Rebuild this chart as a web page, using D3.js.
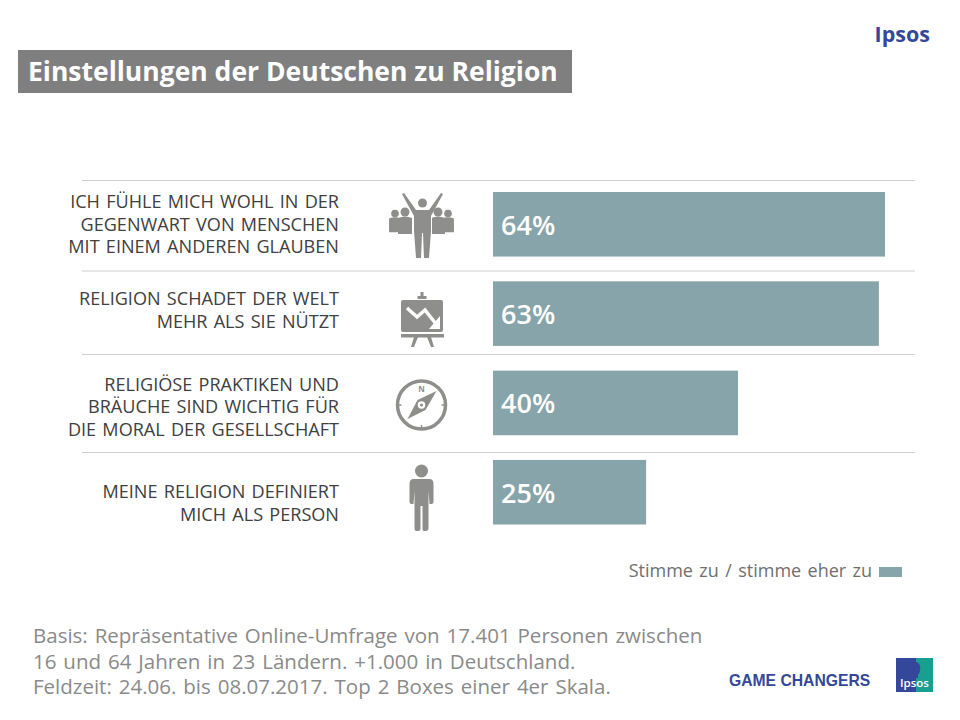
<!DOCTYPE html>
<html>
<head>
<meta charset="utf-8">
<script src="https://cdn.jsdelivr.net/npm/d3@7"></script>
<style>
  html, body { margin: 0; padding: 0; background: #fff; }
  text { font-family: "Open Sans", sans-serif; }
</style>
</head>
<body>
<div id="chart"></div>
<script>
const width = 960, height = 720;

// values
const categories = ["belief", "harm", "moral", "person"];
const values = [64, 63, 40, 25];
const labels = [
  ["ICH FÜHLE MICH WOHL IN DER", "GEGENWART VON MENSCHEN", "MIT EINEM ANDEREN GLAUBEN"],
  ["RELIGION SCHADET DER WELT", "MEHR ALS SIE NÜTZT"],
  ["RELIGIÖSE PRAKTIKEN UND", "BRÄUCHE SIND WICHTIG FÜR", "DIE MORAL DER GESELLSCHAFT"],
  ["MEINE RELIGION DEFINIERT", "MICH ALS PERSON"]
];
const legendLabel = "Stimme zu / stimme eher zu";
const titleText = "Einstellungen der Deutschen zu Religion";
const footnotes = [
  "Basis: Repräsentative Online-Umfrage von 17.401 Personen zwischen",
  "16 und 64 Jahren in 23 Ländern. +1.000 in Deutschland.",
  "Feldzeit: 24.06. bis 08.07.2017. Top 2 Boxes einer 4er Skala."
];

const barColor = "#86a4a9", iconColor = "#8e8e8c", textColor = "#404040", ipsosBlue = "#35479a";

const svg = d3.select("#chart").append("svg")
  .attr("width", width)
  .attr("height", height)
  .attr("viewBox", [0, 0, width, height])
  .style("display", "block");

// scales
const x = d3.scaleLinear().domain([0, 64]).range([493, 885]);
const y = d3.scaleBand().domain(categories).range([192, 524.5]).paddingInner(0.277).paddingOuter(0);

// title box
svg.append("rect").attr("x", 18).attr("y", 50).attr("width", 554).attr("height", 43).attr("fill", "#7f7f7f");
svg.append("text").attr("x", 28).attr("y", 81)
  .attr("font-size", 26.5).attr("font-weight", 700).attr("fill", "#fff")
  .text(titleText);

// top logo
svg.append("text").attr("x", 930).attr("y", 42).attr("text-anchor", "end")
  .attr("font-size", 21.5).attr("font-weight", 700).attr("fill", ipsosBlue).text("Ipsos");

// separators
const sepY = [180.5, 271, 354.5, 452.5];
svg.selectAll("line.sep").data(sepY).enter().append("line")
  .attr("class", "sep")
  .attr("x1", 82).attr("x2", 915)
  .attr("y1", (d) => d).attr("y2", (d) => d)
  .attr("stroke", "#cfcfcf").attr("stroke-width", 1);

// bars
const rows = categories.map((c, i) => ({ key: c, value: values[i], lines: labels[i] }));

svg.selectAll("rect.bar").data(rows).enter().append("rect")
  .attr("class", "bar")
  .attr("x", x(0))
  .attr("y", (d) => y(d.key))
  .attr("width", (d) => x(d.value) - x(0))
  .attr("height", y.bandwidth())
  .attr("fill", barColor);

svg.selectAll("text.val").data(rows).enter().append("text")
  .attr("class", "val")
  .attr("x", x(0) + 8)
  .attr("y", (d) => y(d.key) + y.bandwidth() / 2 + 10.5)
  .attr("font-size", 27).attr("font-weight", 600).attr("fill", "#fff")
  .text((d) => d.value + "%");

// row labels, centred on their own rows and not on the bars
const labelMid = [224.3, 310, 406.5, 503];
rows.forEach((d, r) => {
  const lh = 22.5;
  d.lines.forEach((t, i) => {
    svg.append("text")
      .attr("x", 339)
      .attr("y", labelMid[r] + (i - (d.lines.length - 1) / 2) * lh + 6.5)
      .attr("text-anchor", "end")
      .attr("font-size", 18.1).attr("fill", textColor).attr("word-spacing", 1.5)
      .text(t);
  });
});

// icons, each drawn around its own centre
const icons = {
  belief(g) {
    const person = (cx, cy, s) => {
      const p = g.append("g").attr("transform", `translate(${cx},${cy}) scale(${s})`);
      p.append("circle").attr("cy", -10).attr("r", 4.5);
      p.append("path").attr("d", "M-7,-4 Q0,-7 7,-4 L7,12 L-7,12 Z");
    };
    person(-27, -3, 0.85);
    person(26, -3, 0.85);
    person(-17, -3, 1);
    person(16, -3, 1);
    // centre figure over a white halo
    g.append("path").attr("fill", "#fff")
      .attr("d", "M-21,-34 L-9,-15 L-9,8 L-7,34 L8,34 L10,8 L10,-15 L22,-34 L18,-34 L6,-18 L-5,-18 L-17,-34 Z");
    g.append("circle").attr("cx", 0.5).attr("cy", -22).attr("r", 4.5);
    g.append("path")
      .attr("d", "M-20,-31 L-18,-32 L-6,-15 L7,-15 L19,-32 L21,-31 L9,-9 L9,6 L7,33 L2,33 L1,8 L0,8 L-1,33 L-6,33 L-8,6 L-8,-9 Z");
  },
  harm(g) {
    g.append("rect").attr("x", -1.5).attr("y", -21).attr("width", 3).attr("height", 5);
    g.append("rect").attr("x", -4.5).attr("y", -17).attr("width", 9).attr("height", 3);
    g.append("rect").attr("x", -21).attr("y", -13).attr("width", 42).attr("height", 32).attr("rx", 2);
    g.append("rect").attr("x", -21).attr("y", 21).attr("width", 43).attr("height", 3.5);
    g.append("path").attr("d", "M-8,24 L-4,24 L-8,34 L-11,34 Z M5,24 L9,24 L12,34 L9,34 Z");
    g.append("path").attr("fill", "none").attr("stroke", "#fff").attr("stroke-width", 3.5)
      .attr("d", "M-15,-5 L-5,4 L3,-3 L14,11");
    g.append("path").attr("fill", "#fff").attr("d", "M18,3 L18,16 L7,16 Z");
  },
  moral(g) {
    g.append("circle").attr("r", 24).attr("fill", "none").attr("stroke", iconColor).attr("stroke-width", 3.5);
    g.append("path").attr("d", "M15,-14 L4,5 L-14,14 L-4,-5 Z");
    g.append("circle").attr("r", 4.5).attr("fill", "#fff").attr("stroke", iconColor).attr("stroke-width", 1.5);
    g.append("circle").attr("r", 1.5);
    g.append("text").attr("y", -13).attr("text-anchor", "middle").attr("font-size", 8).attr("font-weight", 700).attr("fill", iconColor).text("N");
    g.append("path").attr("fill", "none").attr("stroke", iconColor).attr("stroke-width", 1.5)
      .attr("d", "M-24,0 H-20 M20,0 H24 M0,20 V24");
  },
  person(g) {
    g.append("circle").attr("cy", -22).attr("r", 6.5);
    g.append("path")
      .attr("d", "M-8,-14 L8,-14 Q12,-14 12,-9 L12,9 Q12,11 10,11 L8,11 L7,-2 L7,35 Q7,38 4,38 L2,38 Q1,38 1,35 L1,13 L-1,13 L-1,35 Q-1,38 -3,38 L-5,38 Q-7,38 -7,35 L-7,-2 L-8,11 L-10,11 Q-12,11 -12,9 L-12,-9 Q-12,-14 -8,-14 Z");
  }
};
const iconPos = { belief: [422, 225], harm: [422, 313], moral: [421.5, 405], person: [421.5, 493] };
categories.forEach((c) => {
  const g = svg.append("g")
    .attr("transform", `translate(${iconPos[c][0]},${iconPos[c][1]})`)
    .attr("fill", iconColor);
  icons[c](g);
});

// legend
svg.append("text").attr("x", 872).attr("y", 577).attr("text-anchor", "end")
  .attr("font-size", 18).attr("fill", "#6f6f6f").attr("word-spacing", 1.7).text(legendLabel);
svg.append("rect").attr("x", 879).attr("y", 567).attr("width", 23).attr("height", 10).attr("fill", barColor);

// footnote
svg.selectAll("text.foot").data(footnotes).enter().append("text")
  .attr("class", "foot")
  .attr("x", 33)
  .attr("y", (d, i) => 643 + i * 25.5)
  .attr("font-size", 20.5).attr("fill", "#8a8a8a").attr("word-spacing", 1.6)
  .text((d) => d);

// bottom logos
svg.append("text").attr("x", 729).attr("y", 685.5)
  .style("font-family", "Liberation Sans")
  .attr("font-size", 15.7).attr("font-weight", 700).attr("fill", ipsosBlue).text("GAME CHANGERS");
const logo = svg.append("g").attr("transform", "translate(896,658)");
logo.append("rect").attr("width", 37).attr("height", 34).attr("fill", "#17a08f");
logo.append("rect").attr("width", 20).attr("height", 34).attr("fill", ipsosBlue);
logo.append("path").attr("fill", ipsosBlue).attr("d", "M15,5 Q22,2 24,8 Q25,14 22,17 L22,20 L16,20 Q13,12 15,5 Z");
logo.append("text").attr("x", 18.5).attr("y", 29).attr("text-anchor", "middle")
  .attr("font-size", 11.5).attr("font-weight", 600).attr("fill", "#fff").text("Ipsos");
</script>
</body>
</html>
